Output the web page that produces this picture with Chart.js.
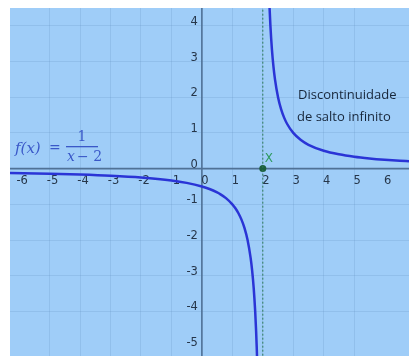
<!DOCTYPE html>
<html>
<head>
<meta charset="utf-8">
<script src="https://cdn.jsdelivr.net/npm/chart.js@4/dist/chart.umd.min.js"></script>
<style>
  html, body { margin: 0; padding: 0; background: #ffffff; }
  #wrap { width: 409px; height: 356px; }
</style>
</head>
<body>
<div id="wrap"><canvas id="c" width="409" height="356"></canvas></div>
<script>
// f(x) = 1/(x-2): left branch (x < 2)
const leftX = [-6.3, -5, -4, -3, -2, -1, -0.5, 0, 0.25, 0.5, 0.6, 0.8, 1, 1.1, 1.2, 1.3, 1.4, 1.5, 1.6, 1.65, 1.7, 1.75, 1.78, 1.8, 1.81];
const leftY = [-0.120, -0.143, -0.167, -0.2, -0.25, -0.333, -0.4, -0.5, -0.571, -0.667, -0.714, -0.833, -1, -1.111, -1.25, -1.429, -1.667, -2, -2.5, -2.857, -3.333, -4, -4.545, -5, -5.263];
// right branch (x > 2)
const rightX = [2.2, 2.22, 2.25, 2.3, 2.35, 2.4, 2.5, 2.6, 2.7, 2.8, 3, 3.25, 3.5, 4, 4.5, 5, 5.5, 6, 6.5, 6.8];
const rightY = [5, 4.545, 4, 3.333, 2.857, 2.5, 2, 1.667, 1.429, 1.25, 1, 0.8, 0.667, 0.5, 0.4, 0.333, 0.286, 0.25, 0.222, 0.208];

// asymptote and the marked point on it
const asymptoteX = 2;
const markX = [2];
const markY = [0];
const markLabel = 'X';

// axis ticks
const xTickValues = [-6, -5, -4, -3, -2, -1, 0, 1, 2, 3, 4, 5, 6];
const xTickLabels = ['-6', '-5', '-4', '-3', '-2', '-1', '0', '1', '2', '3', '4', '5', '6'];
const yTickValues = [-5, -4, -3, -2, -1, 0, 1, 2, 3, 4];
const yTickLabels = ['-5', '-4', '-3', '-2', '-1', '0', '1', '2', '3', '4'];

// annotations
const noteLines = ['Discontinuidade', 'de salto infinito'];

const X_MIN = -6.3, X_MAX = 6.8, Y_MIN = -5.25, Y_MAX = 4.5;

const zip = (xs, ys) => xs.map((x, i) => ({ x: x, y: ys[i] }));

const gridColor = ctx => Number.isInteger(ctx.tick.value) ? 'rgba(95,140,190,0.22)' : 'rgba(0,0,0,0)';

const graphPaper = {
  id: 'graphPaper',
  beforeDraw(chart) {
    const { ctx, chartArea: a } = chart;
    ctx.save();
    ctx.fillStyle = '#9fcdf8';
    ctx.fillRect(a.left, a.top, a.right - a.left, a.bottom - a.top);
    ctx.restore();
  },
  beforeDatasetsDraw(chart) {
    const { ctx, chartArea: a, scales: { x, y } } = chart;
    const x0 = x.getPixelForValue(0), y0 = y.getPixelForValue(0);
    ctx.save();
    // axes
    ctx.strokeStyle = '#4f7196';
    ctx.lineWidth = 1.6;
    ctx.beginPath();
    ctx.moveTo(a.left, y0); ctx.lineTo(a.right, y0);
    ctx.moveTo(x0, a.top); ctx.lineTo(x0, a.bottom);
    ctx.stroke();
    // tick labels
    ctx.fillStyle = '#26364a';
    ctx.font = '11.5px "DejaVu Sans", sans-serif';
    ctx.textAlign = 'center';
    ctx.textBaseline = 'middle';
    xTickValues.forEach((v, i) => {
      ctx.fillText(xTickLabels[i], x.getPixelForValue(v) + 3, y0 + 12);
    });
    ctx.textAlign = 'right';
    yTickValues.forEach((v, i) => {
      ctx.fillText(yTickLabels[i], x0 - 4, y.getPixelForValue(v) - 4);
    });
    ctx.restore();
  },
  afterDatasetsDraw(chart) {
    const { ctx, scales: { x, y } } = chart;
    ctx.save();
    // point label
    ctx.fillStyle = '#2f9a60';
    ctx.font = '12px "DejaVu Sans", sans-serif';
    ctx.textAlign = 'left';
    ctx.textBaseline = 'middle';
    ctx.fillText(markLabel, x.getPixelForValue(markX[0]) + 2, y.getPixelForValue(markY[0]) - 10);

    // note
    ctx.fillStyle = '#17263a';
    ctx.font = '13px "Open Sans", sans-serif';
    ctx.fillText(noteLines[0], 298, 95);
    ctx.fillText(noteLines[1], 297, 117);

    // formula f(x) = 1/(x - 2)
    ctx.fillStyle = '#3a58c8';
    ctx.font = 'italic 15px "DejaVu Serif", serif';
    ctx.textAlign = 'left';
    ctx.fillText('f(x)', 15, 149);
    ctx.font = '14px "DejaVu Serif", serif';
    ctx.fillText('=', 49, 148);
    ctx.textAlign = 'center';
    ctx.fillText('1', 82, 137);
    ctx.fillRect(66, 146, 32, 1.3);
    ctx.font = 'italic 14px "DejaVu Serif", serif';
    ctx.textAlign = 'left';
    ctx.fillText('x', 67, 157);
    ctx.font = '14px "DejaVu Serif", serif';
    ctx.fillText('\u2212 2', 77, 157);
    ctx.restore();
  }
};

new Chart(document.getElementById('c'), {
  type: 'scatter',
  data: {
    datasets: [
      {
        data: [{ x: asymptoteX, y: Y_MIN - 1 }, { x: asymptoteX, y: Y_MAX + 1 }],
        showLine: true,
        borderColor: '#2d7a58',
        borderWidth: 1,
        borderDash: [2, 2],
        pointRadius: 0
      },
      {
        data: zip(leftX, leftY),
        showLine: true,
        borderColor: '#2a34d6',
        borderWidth: 2.5,
        pointRadius: 0,
        cubicInterpolationMode: 'monotone'
      },
      {
        data: zip(rightX, rightY),
        showLine: true,
        borderColor: '#2a34d6',
        borderWidth: 2.5,
        pointRadius: 0,
        cubicInterpolationMode: 'monotone'
      },
      {
        data: zip(markX, markY),
        showLine: false,
        pointRadius: 3.5,
        pointBackgroundColor: '#1c5e3e',
        pointBorderColor: '#1c5e3e',
        pointBorderWidth: 0
      }
    ]
  },
  options: {
    responsive: false,
    animation: false,
    events: [],
    layout: { autoPadding: false, padding: { left: 10, top: 8, right: 0, bottom: 0 } },
    plugins: { legend: { display: false }, tooltip: { enabled: false } },
    scales: {
      x: {
        type: 'linear', min: X_MIN, max: X_MAX,
        ticks: { display: false, stepSize: 1 },
        border: { display: false },
        grid: { color: gridColor, drawTicks: false, lineWidth: 1 }
      },
      y: {
        type: 'linear', min: Y_MIN, max: Y_MAX,
        ticks: { display: false, stepSize: 1 },
        border: { display: false },
        grid: { color: gridColor, drawTicks: false, lineWidth: 1 }
      }
    }
  },
  plugins: [graphPaper]
});
</script>
</body>
</html>
